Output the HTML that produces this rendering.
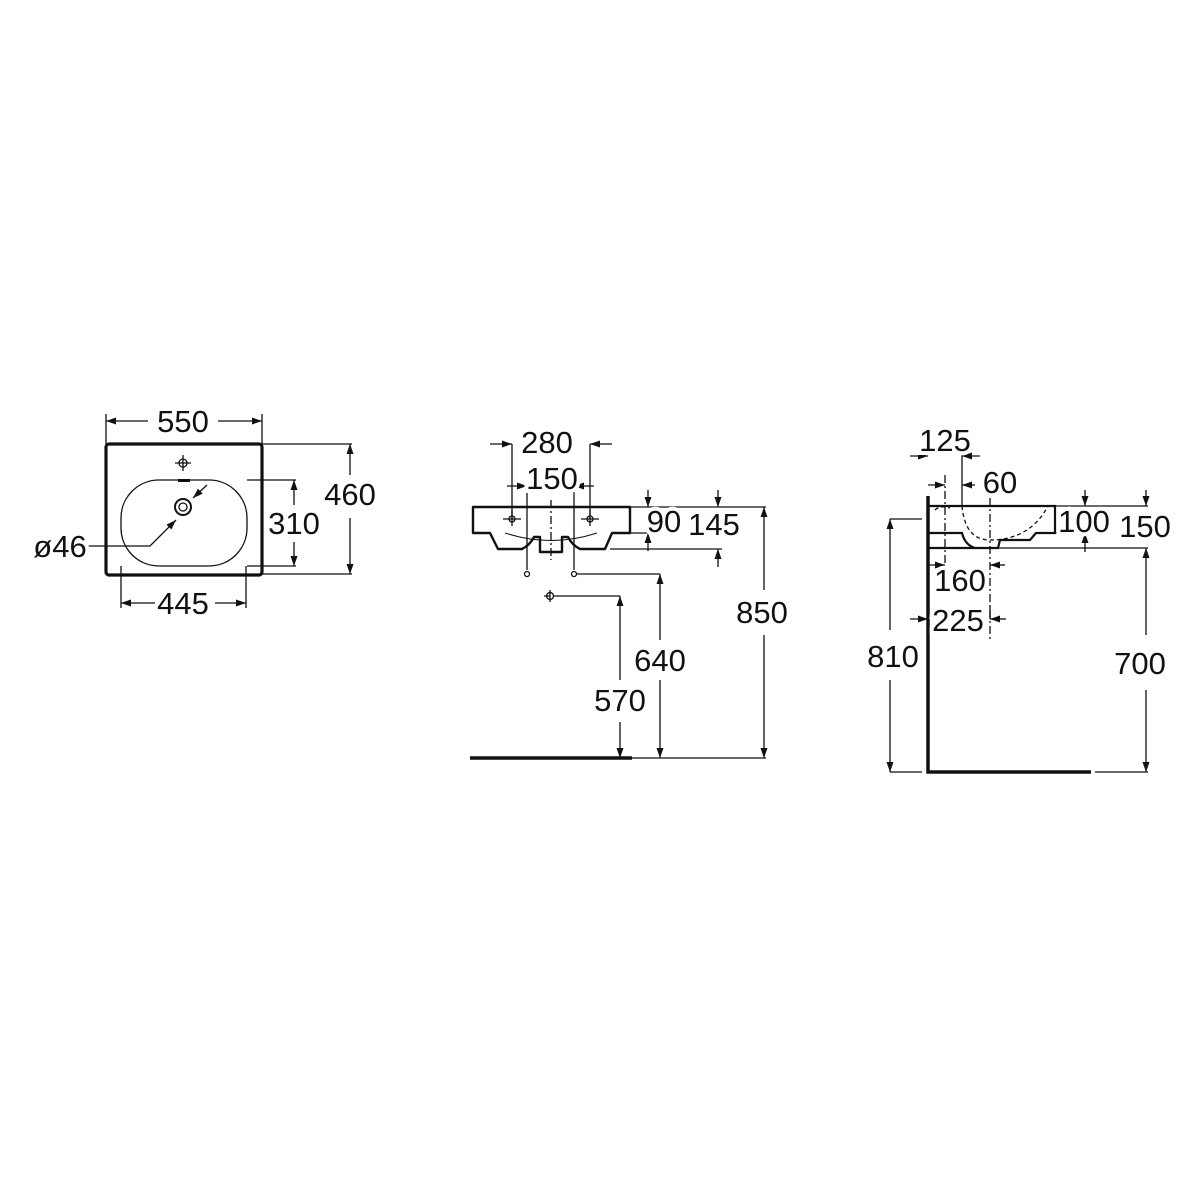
<!DOCTYPE html>
<html><head><meta charset="utf-8"><style>html,body{margin:0;background:#fff}svg{display:block}</style></head><body>
<svg width="1200" height="1200" viewBox="0 0 1200 1200" xmlns="http://www.w3.org/2000/svg">
<defs>
<marker id="a" viewBox="0 0 10 10" refX="10" refY="5" markerWidth="10" markerHeight="10" markerUnits="userSpaceOnUse" orient="auto-start-reverse"><path d="M0,1.5 L10,5 L0,8.5 Z" fill="#111"/></marker>
</defs>
<g stroke="#111" stroke-width="1.3" fill="none">
<!-- LEFT -->
<rect x="106" y="444" width="156" height="131" rx="3" stroke-width="3.2"/>
<rect x="121" y="480" width="126" height="86" rx="38"/>
<rect x="178" y="479" width="12" height="3" fill="#111" stroke="none"/>
<circle cx="183" cy="463" r="4"/><path d="M183,455v16M175,463h16"/>
<circle cx="183" cy="507" r="8" stroke-width="2"/><circle cx="183" cy="507" r="4"/>
<path d="M106,444V414M262,444V414"/>
<path d="M148,421H106" marker-end="url(#a)"/><path d="M218,421H262" marker-end="url(#a)"/>
<path d="M121,566V608M246,566V608"/>
<path d="M155,603H121" marker-end="url(#a)"/><path d="M215,603H246" marker-end="url(#a)"/>
<path d="M247,480H296M247,566H296"/>
<path d="M294,505V480" marker-end="url(#a)"/><path d="M294,542V566" marker-end="url(#a)"/>
<path d="M262,444H352M262,574H352"/>
<path d="M350,475V444" marker-end="url(#a)"/><path d="M350,518V574" marker-end="url(#a)"/>
<path d="M88,546H150L176,520" marker-end="url(#a)"/>
<path d="M207,485L193,498" marker-end="url(#a)"/>
<!-- MIDDLE -->
<path d="M473,507H630V533H612L605,549H580Q572,545 568,537H562V552H540V537H534Q530,545 522,549H498L490,533H473Z" stroke-width="2.4" stroke-linejoin="round"/>
<path d="M505,533Q551,548 597,533" stroke-width="1"/>
<path d="M551,500V560" stroke-dasharray="8,3,2,3"/>
<circle cx="512" cy="519" r="3"/><path d="M503,519h18M512,510v16"/>
<circle cx="590" cy="519" r="3"/><path d="M581,519h18M590,510v16"/>
<path d="M512,444V519M590,444V519"/>
<path d="M490,444H512" marker-end="url(#a)"/><path d="M612,444H590" marker-end="url(#a)"/>
<path d="M527,486V570M574,486V570"/>
<path d="M507,486H527" marker-end="url(#a)"/><path d="M594,486H574" marker-end="url(#a)"/>
<circle cx="527" cy="574" r="2.5"/><circle cx="574" cy="574" r="2.5"/>
<circle cx="550" cy="596" r="3.5"/><path d="M544,596h6M550,590v12"/>
<path d="M577,574H660"/><path d="M554,596H620"/>
<path d="M660,640V574" marker-end="url(#a)"/><path d="M660,680V758" marker-end="url(#a)"/>
<path d="M620,680V596" marker-end="url(#a)"/><path d="M620,722V758" marker-end="url(#a)"/>
<path d="M630,507H766M630,533H655M610,549H722"/>
<path d="M764,590V507" marker-end="url(#a)"/><path d="M764,635V758" marker-end="url(#a)"/>
<path d="M648,490V507" marker-end="url(#a)"/><path d="M648,551V533" marker-end="url(#a)"/>
<path d="M718,490V507" marker-end="url(#a)"/><path d="M718,567V549" marker-end="url(#a)"/>
<path d="M470,758H632" stroke-width="3.5"/><path d="M632,758H766"/>
<!-- RIGHT -->
<path d="M928,496V772H1091" stroke-width="3.5"/>
<path d="M1095,772H1148M890,772H922M890,519H922"/>
<path d="M928,506H1055V533H1036L1030,540H1000L998,548H975Q965,545 962,533H928M928,548H990" stroke-width="2.2"/>
<path d="M962,506Q965,540 990,540Q1030,540 1048,506M935,510Q940,505 950,508" stroke-dasharray="4,3"/>
<path d="M945,475V565M990,498V640" stroke-dasharray="8,3,2,3"/>
<path d="M962,452V506"/>
<path d="M910,456H928" marker-end="url(#a)"/><path d="M980,456H962" marker-end="url(#a)"/>
<path d="M928,485H945" marker-end="url(#a)"/><path d="M975,485H962" marker-end="url(#a)"/>
<path d="M928,565H945" marker-end="url(#a)"/><path d="M1005,565H990" marker-end="url(#a)"/>
<path d="M910,619H928" marker-end="url(#a)"/><path d="M1006,619H990" marker-end="url(#a)"/>
<path d="M990,606V619"/>
<path d="M1055,506H1148M1055,533H1090M990,548H1148"/>
<path d="M1085,490V506" marker-end="url(#a)"/><path d="M1085,552V533" marker-end="url(#a)"/>
<path d="M1146,490V506" marker-end="url(#a)"/><path d="M1146,635V548" marker-end="url(#a)"/><path d="M1146,690V772" marker-end="url(#a)"/>
<path d="M890,630V519" marker-end="url(#a)"/><path d="M890,680V772" marker-end="url(#a)"/>
</g>
<g font-family="Liberation Sans, sans-serif" font-size="31" fill="#111" text-anchor="middle" stroke="#fff" stroke-width="8" paint-order="stroke">
<text x="183" y="432">550</text>
<text x="183" y="614">445</text>
<text x="294" y="534">310</text>
<text x="350" y="505">460</text>
<text x="60" y="557">ø46</text>
<text x="547" y="453">280</text>
<text x="552" y="489">150</text>
<text x="664" y="532">90</text>
<text x="714" y="535">145</text>
<text x="762" y="623">850</text>
<text x="660" y="671">640</text>
<text x="620" y="711">570</text>
<text x="945" y="451">125</text>
<text x="1000" y="493">60</text>
<text x="1084" y="532">100</text>
<text x="1145" y="537">150</text>
<text x="960" y="591">160</text>
<text x="958" y="631">225</text>
<text x="893" y="667">810</text>
<text x="1140" y="674">700</text>
</g>
</svg>
</body></html>
